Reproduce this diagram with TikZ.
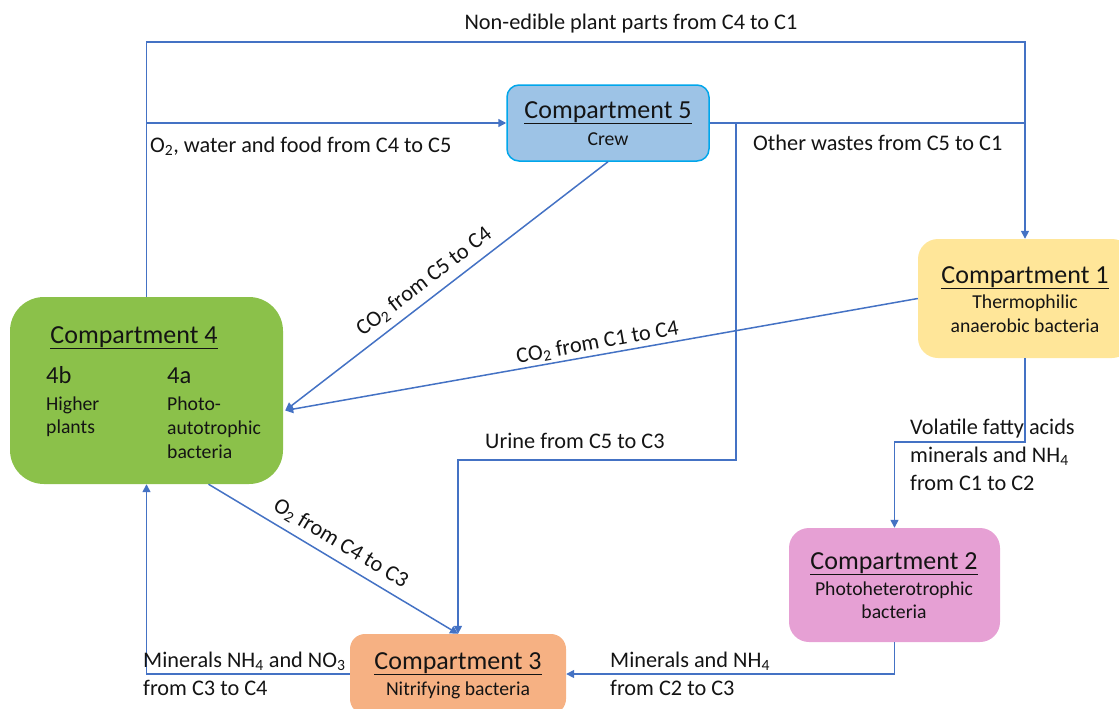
\documentclass[tikz,border=0pt]{standalone}
\usepackage{fontspec}
\setmainfont{Carlito}
\usetikzlibrary{arrows.meta,calc}
\definecolor{flowc}{RGB}{68,114,196}
\definecolor{cfive}{RGB}{157,195,230}
\definecolor{cfiveb}{RGB}{0,166,235}
\definecolor{cfour}{RGB}{139,193,74}
\definecolor{cone}{RGB}{255,230,153}
\definecolor{ctwo}{RGB}{230,160,212}
\definecolor{cthree}{RGB}{246,177,131}
\definecolor{txt}{RGB}{20,20,20}
\newcommand\fttl{\fontsize{26}{31}\selectfont}
\newcommand\flbl{\fontsize{22.3}{28}\selectfont}
\newcommand\fsbt{\fontsize{19.7}{24.5}\selectfont}
\newcommand\fnum{\fontsize{24.5}{29}\selectfont}
\tikzset{
  comp/.style={draw=none, inner sep=0pt},
  flow/.style={draw=flowc, line width=1.5pt, -{Triangle[length=8pt,width=8pt]}},
  plain/.style={draw=flowc, line width=1.5pt},
  ttl/.style={font=\fttl, text=txt, inner sep=0pt, anchor=base},
  numl/.style={font=\fnum, text=txt, inner sep=0pt, anchor=base west},
  sbt/.style={font=\fsbt, text=txt, inner sep=0pt, anchor=base},
  sbtw/.style={font=\fsbt, text=txt, inner sep=0pt, anchor=base west},
  lbl/.style={font=\flbl, text=txt, inner sep=0pt, anchor=base west},
  slbl/.style={font=\flbl, text=txt, inner sep=2pt, sloped},
}
\begin{document}
\begin{tikzpicture}[x=1pt,y=-1pt]
\useasboundingbox (0,0) rectangle (1119,709);
% boxes
\node[comp, fill=cfive, draw=cfiveb, line width=1.5pt, rounded corners=12pt, minimum width=202pt, minimum height=76pt] (c5) at (608,123) {};
\node[comp, fill=cfour, rounded corners=34pt, minimum width=273pt, minimum height=187pt] (c4) at (146.5,390.5) {};
\node[comp, fill=cone, rounded corners=20pt, minimum width=214pt, minimum height=119pt] (c1) at (1025,298.5) {};
\node[comp, fill=ctwo, rounded corners=20pt, minimum width=211pt, minimum height=114pt] (c2) at (894.5,585) {};
\node[comp, fill=cthree, rounded corners=15pt, minimum width=216pt, minimum height=80pt] (c3) at (458,674) {};
% box texts
\node[ttl] (t5) at (608,118) {\underline{Compartment 5}};
\node[sbt] (s5) at (608,145) {Crew};
\node[ttl] (t4) at (134,343) {\underline{Compartment 4}};
\node[numl] (t4b) at (46,383) {4b};
\node[sbtw] (s4b1) at (46,410) {Higher};
\node[sbtw] (s4b2) at (46,433) {plants};
\node[numl] (t4a) at (167,383) {4a};
\node[sbtw] (s4a1) at (167,410) {Photo-};
\node[sbtw] (s4a2) at (167,434) {autotrophic};
\node[sbtw] (s4a3) at (167,458) {bacteria};
\node[ttl] (t1) at (1025,283) {\underline{Compartment 1}};
\node[sbt] (s11) at (1025,308) {Thermophilic};
\node[sbt] (s12) at (1025,332) {anaerobic bacteria};
\node[ttl] (t2) at (894,569) {\underline{Compartment 2}};
\node[sbt] (s21) at (894,595) {Photoheterotrophic};
\node[sbt] (s22) at (894,618) {bacteria};
\node[ttl] (t3) at (458,669) {\underline{Compartment 3}};
\node[sbt] (s3) at (458,695) {Nitrifying bacteria};
% connectors
\draw[flow] (c4.north) |- (1025,42) -- (c1.north);
\draw[flow] (c4.north |- c5.west) -- (c5.west);
\draw[plain] (c5.east) -- (c5.east -| c1.north);
\coordinate (ucorner) at (736,460);
\draw[flow] (c5.east -| ucorner) -- (ucorner) -| (c3.north);
\coordinate (c4in) at ($(c4.east)+(2,20)$);
\draw[flow] (c5.south) -- node[slbl, above=5pt, pos=0.537] (l54) {CO\textsubscript{2} from C5 to C4} (c4in);
\draw[flow] (c1.west) -- node[slbl, above=0pt, pos=0.503] (l14) {CO\textsubscript{2} from C1 to C4} (c4in);
\draw[flow] ($(c4.south)+(62,0)$) -- node[slbl, above=5pt, pos=0.495] (l43) {O\textsubscript{2} from C4 to C3} (c3.north);
\draw[flow] (c3.west) -| (c4.south);
\draw[flow] (c1.south) -- ++(0,84) -| (c2.north);
\draw[flow] (c2.south) |- (c3.east);
% labels
\node[lbl, anchor=base] (lnon) at (631,30) {Non-edible plant parts from C4 to C1};
\node[lbl] (lo2) at (150,152) {O\textsubscript{2}, water and food from C4 to C5};
\node[lbl] (loth) at (753,150) {Other wastes from C5 to C1};
\node[lbl] (lur) at (485,448) {Urine from C5 to C3};
\node[lbl] (lvf1) at (910,434) {Volatile fatty acids};
\node[lbl] (lvf2) at (910,462) {minerals and NH\textsubscript{4}};
\node[lbl] (lvf3) at (910,490) {from C1 to C2};
\node[lbl] (lm1) at (610,667) {Minerals and NH\textsubscript{4}};
\node[lbl] (lm2) at (610,695) {from C2 to C3};
\node[lbl] (ln1) at (143,667) {Minerals NH\textsubscript{4} and NO\textsubscript{3}};
\node[lbl] (ln2) at (143,695) {from C3 to C4};
\end{tikzpicture}
\end{document}
